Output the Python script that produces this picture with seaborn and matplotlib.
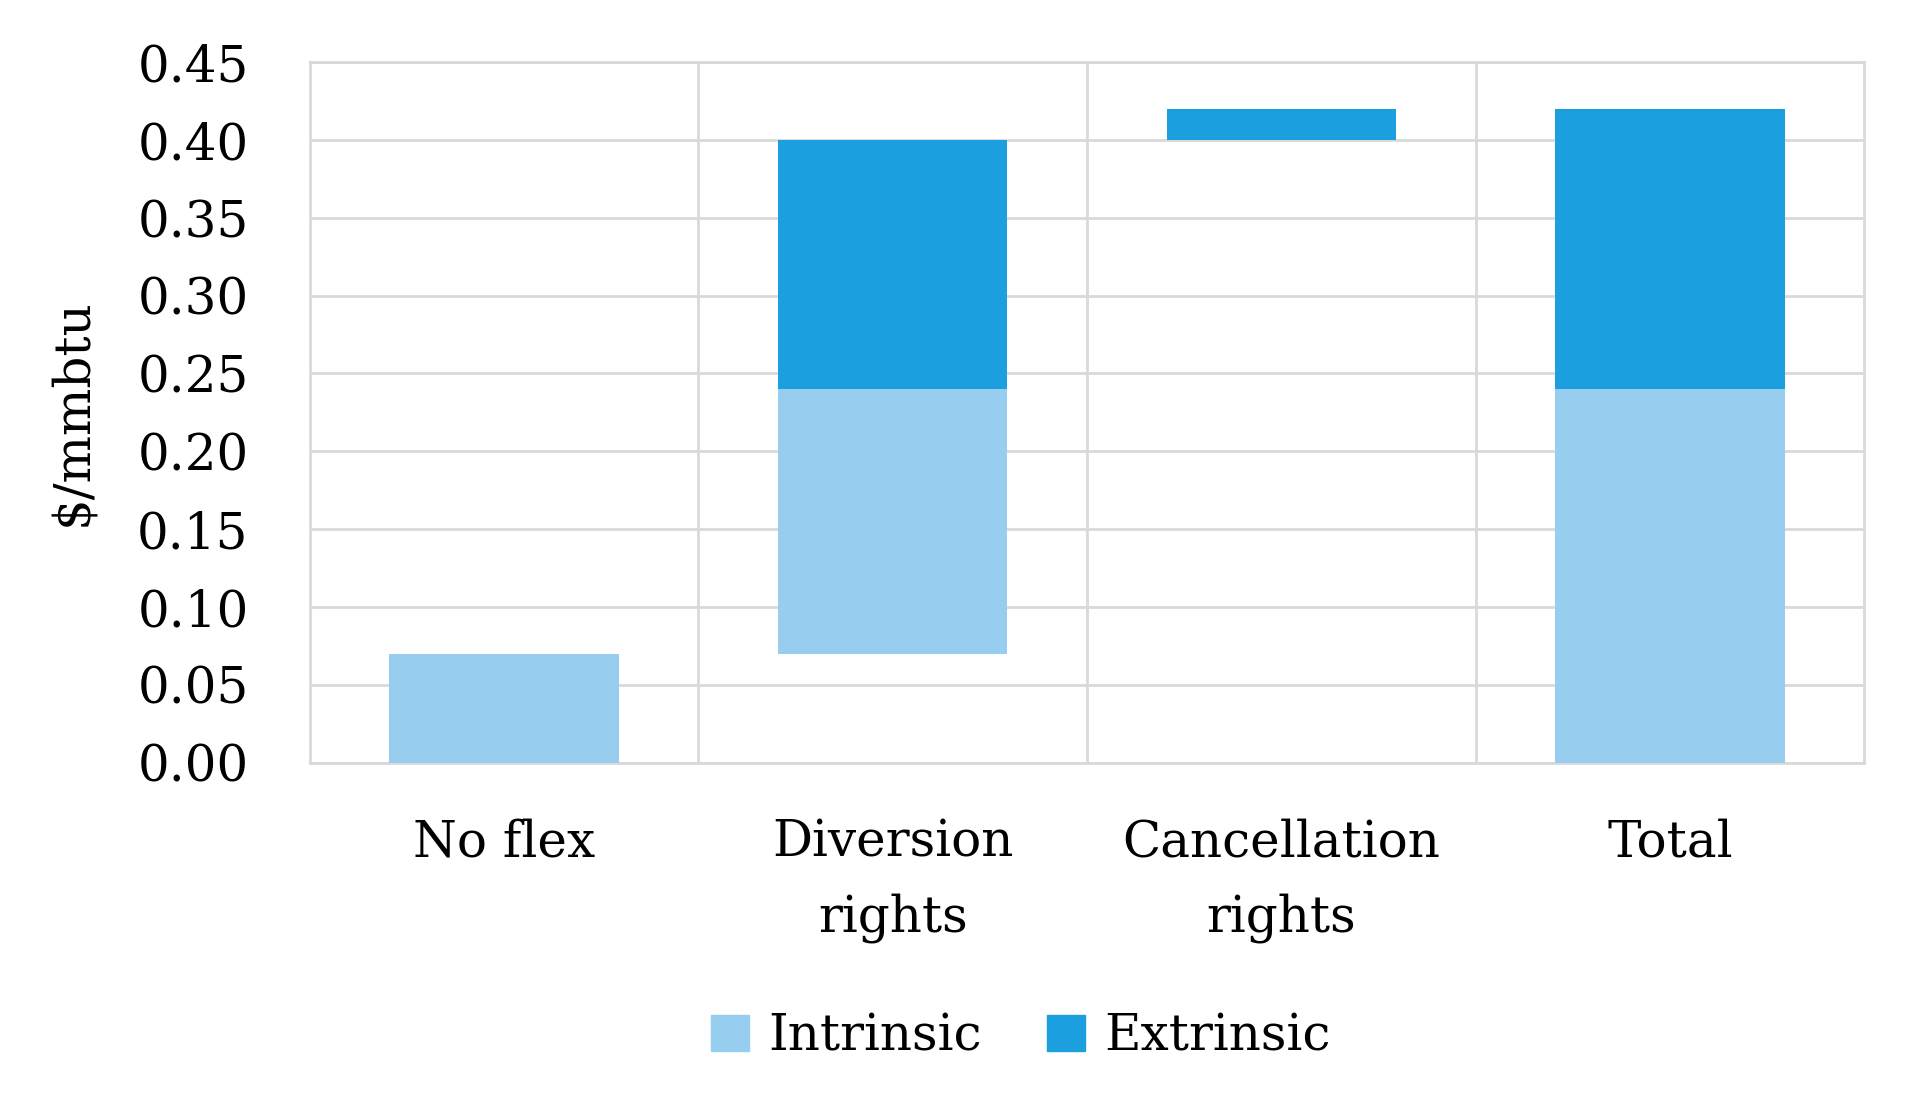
import numpy as np
import pandas as pd
import matplotlib.pyplot as plt
import matplotlib.patches as mpatches
from matplotlib.ticker import FixedLocator
import seaborn as sns

# ── Datos ──────────────────────────────────────────────────────────────────────
categories = ["No flex", "Diversion\nrights", "Cancellation\nrights", "Total"]
base       = [0.00, 0.07, 0.40, 0.00]   # offset invisible (waterfall)
intrinsic  = [0.07, 0.17, 0.00, 0.24]
extrinsic  = [0.00, 0.16, 0.02, 0.18]

C_INTR = "#97CDEF"
C_EXTR = "#1C9FDF"
GRID   = "#D9D9D9"

sns.set_theme(style="white")
plt.rcParams["font.family"] = ["DejaVu Serif"]
plt.rcParams["text.color"] = "black"
plt.rcParams["xtick.color"] = "black"
plt.rcParams["ytick.color"] = "black"
plt.rcParams["axes.labelcolor"] = "black"

df = pd.DataFrame({"cat": categories, "base": base,
                   "intr": intrinsic, "extr": extrinsic})
df["extr_bottom"] = df["base"] + df["intr"]

fig, ax = plt.subplots(figsize=(19.12, 11.10), dpi=100)
fig.subplots_adjust(left=0.162, right=0.975, top=0.944, bottom=0.313)

sns.barplot(data=df, x="cat", y="intr", bottom=df["base"], color=C_INTR,
            width=0.59, saturation=1, linewidth=0, ax=ax, zorder=3)
sns.barplot(data=df, x="cat", y="extr", bottom=df["extr_bottom"], color=C_EXTR,
            width=0.59, saturation=1, linewidth=0, ax=ax, zorder=3)

ax.set_xlim(-0.5, 3.5)
ax.set_ylim(0, 0.45)
yt = np.arange(0, 0.451, 0.05)
ax.set_yticks(yt)
ax.set_yticklabels([f"{v:.2f}" for v in yt])
ax.xaxis.set_minor_locator(FixedLocator([0.5, 1.5, 2.5]))

ax.grid(axis="y", which="major", color=GRID, linewidth=2, zorder=0)
ax.grid(axis="x", which="minor", color=GRID, linewidth=2, zorder=0)
ax.grid(axis="x", which="major", visible=False)
ax.set_axisbelow(True)
for sp in ax.spines.values():
    sp.set_color(GRID)
    sp.set_linewidth(2)

ax.tick_params(axis="y", length=0, pad=44, labelsize=36)
ax.tick_params(axis="x", which="both", length=0, pad=40, labelsize=36)
ax.set_xlabel("")
ax.set_ylabel("$/mmbtu", fontsize=36, labelpad=28)
for lbl in ax.get_xticklabels():
    lbl.set_linespacing(1.65)

handles = [mpatches.Patch(color=C_INTR, label="Intrinsic"),
           mpatches.Patch(color=C_EXTR, label="Extrinsic")]
fig.legend(handles=handles, loc="center", bbox_to_anchor=(0.534, 0.066),
           ncol=2, frameon=False, fontsize=36, handlelength=0.75,
           handleheight=0.75, handletextpad=0.4, columnspacing=1.3)

fig.savefig("out.png", dpi=100)
plt.close()
